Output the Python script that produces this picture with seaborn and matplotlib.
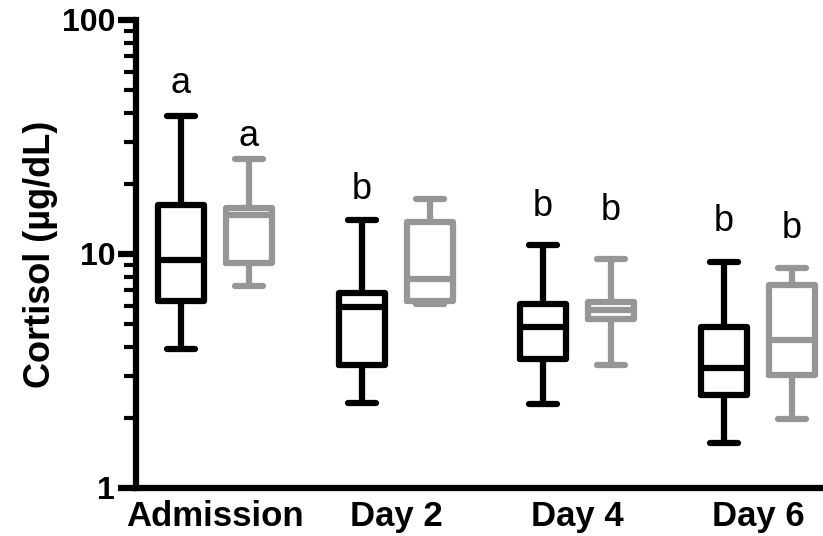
import numpy as np
import pandas as pd
import matplotlib
matplotlib.use("Agg")
import matplotlib.pyplot as plt
import matplotlib.ticker as mticker
import seaborn as sns

# ---- data (five-number summaries: min, Q1, median, Q3, max) ----
categories = ["Admission", "Day 2", "Day 4", "Day 6"]
groups = ["Group 1", "Group 2"]
group1_values = [
    [3.93, 6.30, 9.43, 16.2, 38.9],
    [2.31, 3.35, 5.94, 6.81, 14.0],
    [2.29, 3.56, 4.88, 6.11, 10.9],
    [1.56, 2.50, 3.26, 4.88, 9.25],
]
group2_values = [
    [7.30, 9.15, 14.7, 15.7, 25.5],
    [6.11, 6.30, 7.82, 13.7, 17.2],
    [3.35, 5.30, 5.76, 6.25, 9.52],
    [1.97, 3.04, 4.29, 7.37, 8.71],
]
group1_letters = ["a", "b", "b", "b"]
group2_letters = ["a", "", "b", "b"]
group1_letter_y = [53.3, 18.9, 16.0, 13.7]
group2_letter_y = [31.9, None, 15.4, 12.8]
y_ticks = [1, 10, 100]
y_label = "Cortisol (µg/dL)"

rows = []
for g, vals in zip(groups, [group1_values, group2_values]):
    for cat, v in zip(categories, vals):
        for x in v:
            rows.append({"day": cat, "group": g, "value": x})
df = pd.DataFrame(rows)

sns.set_style("ticks")
plt.rcParams["font.family"] = ["Liberation Sans", "DejaVu Sans"]
plt.rcParams["text.color"] = "black"
plt.rcParams["axes.labelcolor"] = "black"

fig = plt.figure(figsize=(8.23, 5.36), dpi=100)
ax = fig.add_axes([0.1653, 0.0896, 0.8347, 0.8731])

lw = 4.5
box_width = 0.75
palette = {"Group 1": "#000000", "Group 2": "#969696"}
sns.boxplot(
    data=df, x="day", y="value", hue="group", order=categories, hue_order=groups,
    palette=palette, fill=False, whis=(0, 100), width=box_width, gap=0.32,
    linewidth=lw, log_scale=True, showfliers=False, legend=False, ax=ax,
    capprops=dict(solid_capstyle="round"), capwidths=0.155,
)

# significance letters
offset = box_width / 4
for i in range(len(categories)):
    for sign, letters, ys in [(-1, group1_letters, group1_letter_y), (1, group2_letters, group2_letter_y)]:
        if letters[i] and ys[i] is not None:
            ax.text(i + sign * offset, ys[i], letters[i], ha="center", va="center",
                    fontsize=26, color="black")

ax.set_ylim(1, 100)
ax.set_xlim(-0.436, 3.36)
ax.yaxis.set_major_locator(mticker.FixedLocator(y_ticks))
ax.yaxis.set_major_formatter(mticker.FuncFormatter(lambda v, p: f"{v:g}"))
ax.yaxis.set_minor_locator(mticker.LogLocator(base=10, subs=np.arange(2, 10)))
ax.yaxis.set_minor_formatter(mticker.NullFormatter())

for s in ["top", "right"]:
    ax.spines[s].set_visible(False)
for s in ["left", "bottom"]:
    ax.spines[s].set_linewidth(lw)
    ax.spines[s].set_color("black")

ax.tick_params(axis="y", which="major", direction="out", length=13, width=4.5,
               labelsize=23, pad=2, colors="black", labelcolor="black")
ax.tick_params(axis="y", which="minor", direction="out", length=8.5, width=3, colors="black")
ax.tick_params(axis="x", which="both", length=0, labelsize=25, pad=9, labelcolor="black")
for lab in ax.get_xticklabels() + ax.get_yticklabels():
    lab.set_fontweight("bold")

ax.set_xlabel("")
ax.set_ylabel(y_label, fontsize=26, fontweight="bold", labelpad=3, color="black")

fig.savefig("out.png", dpi=100)
